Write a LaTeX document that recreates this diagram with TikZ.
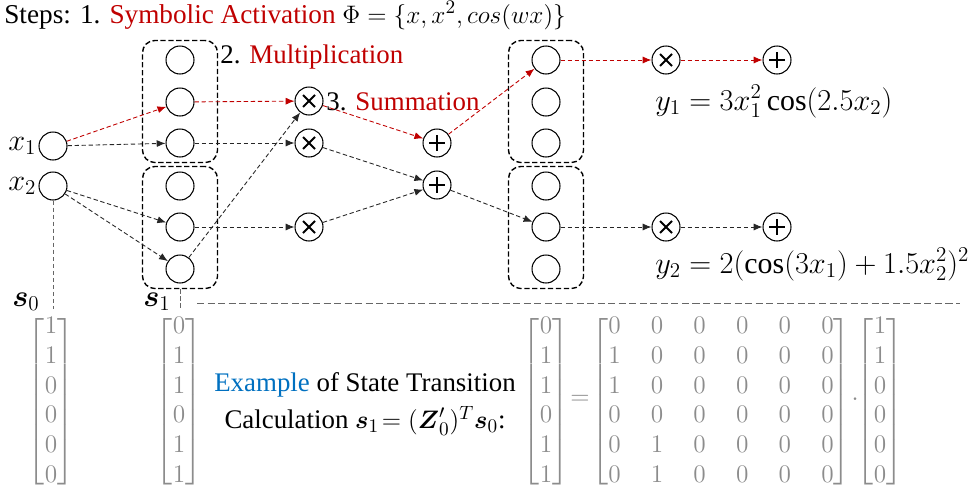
\documentclass[tikz,border=0pt]{standalone}
\usepackage{amsmath}
\usepackage{fontspec}
\setmainfont{Liberation Serif}
\usetikzlibrary{arrows.meta,fit}
\definecolor{stepred}{RGB}{192,0,0}
\definecolor{exblue}{RGB}{0,112,192}
\definecolor{matgray}{RGB}{140,140,140}
\newcommand{\matfont}{\fontsize{14.5}{17}\selectfont\delimiterfactor=900\relax\delimitershortfall=10pt\relax}
\begin{document}
\begin{tikzpicture}[x=0.02cm, y=-0.02cm]
    \tikzset{>={Latex[length=5pt,width=4pt]},
      unit/.style={circle, draw, line width=0.6pt, minimum size=0.56cm, inner sep=0pt},
      mul/.style={unit, path picture={\draw[line width=1.1pt] (path picture bounding box.center) +(-6,-6) -- +(6,6) +(-6,6) -- +(6,-6);}},
      add/.style={unit, path picture={\draw[line width=1.1pt] (path picture bounding box.center) +(-8,0) -- +(8,0) +(0,-8) -- +(0,8);}},
      grp/.style={draw, line width=0.8pt, dash pattern=on 3pt off 1.5pt, rounded corners=7pt, inner xsep=0.46cm, inner ysep=0.1cm},
      link/.style={->, line width=0.5pt, dash pattern=on 2.5pt off 1.5pt, black!85},
      redlink/.style={link, stepred},
      guide/.style={line width=0.5pt, dash pattern=on 2.5pt off 1.5pt, black!60},
      txt/.style={font=\fontsize{15.3}{21}\selectfont},
      big/.style={font=\fontsize{17}{18}\selectfont},
      vec/.style={matgray, inner sep=0pt, font=\matfont}
    }
    \useasboundingbox (0,0) rectangle (969,494);
    \node[anchor=base west, font=\fontsize{15.5}{18}\selectfont, inner sep=0pt] (title) at (4,23)
      {Steps: 1. \textcolor{stepred}{Symbolic Activation} $\Phi=\{x,x^2,cos(wx)\}$};
    \node[unit] (x1) at (53,146) {};
    \node[unit] (x2) at (53,186) {};
    \node[anchor=east, big, inner sep=1pt] (x1lab) at (x1.west) {$x_1$};
    \node[anchor=east, big, inner sep=1pt] (x2lab) at (x2.west) {$x_2$};
    \foreach \i/\y in {1/60,2/102,3/143,4/186,5/227,6/269} {
      \node[unit] (a\i) at (180,\y) {};
      \node[unit] (b\i) at (546,\y) {};
    }
    \node[grp, fit=(a1)(a3)] (g1) {};
    \node[grp, fit=(a4)(a6)] (g2) {};
    \node[grp, fit=(b1)(b3)] (g3) {};
    \node[grp, fit=(b4)(b6)] (g4) {};
    \node[mul] (m1) at (309,101) {};
    \node[mul] (m2) at (309,143) {};
    \node[mul] (m3) at (309,227) {};
    \node[add] (p1) at (437,143) {};
    \node[add] (p2) at (437,185) {};
    \node[mul] (om1) at (666,60) {};
    \node[add] (op1) at (777,60) {};
    \node[mul] (om2) at (666,227) {};
    \node[add] (op2) at (777,227) {};
    \node[anchor=base west, txt, inner sep=0pt] (multlab) at (220,63)
      {2. \textcolor{stepred}{Multiplication}};
    \node[anchor=base west, txt, inner sep=0pt] (sumlab) at (326,110)
      {3. \textcolor{stepred}{Summation}};
    \node[anchor=base west, big, inner sep=0pt] (y1) at (655,110)
      {$y_1=3x_1^2\cos(2.5x_2)$};
    \node[anchor=base west, big, inner sep=0pt] (y2) at (655,273)
      {$y_2=2(\cos(3x_1)+1.5x_2^2)^2$};
    \draw[redlink] (x1) -- (a2);
    \draw[redlink] (a2) -- (m1);
    \draw[redlink] (m1) -- (p1);
    \draw[redlink] (p1) -- (b1);
    \draw[redlink] (b1) -- (om1);
    \draw[redlink] (om1) -- (op1);
    \draw[link] (x1) -- (a3);
    \draw[link] (a3) -- (m2);
    \draw[link] (a6) -- (m1);
    \draw[link] (x2) -- (a5);
    \draw[link] (x2) -- (a6);
    \draw[link] (a5) -- (m3);
    \draw[link] (m2) -- (p2);
    \draw[link] (m3) -- (p2);
    \draw[link] (p2) -- (b5);
    \draw[link] (b5) -- (om2);
    \draw[link] (om2) -- (op2);
    \coordinate (s0top) at (53,309);
    \coordinate (s1top) at (180,309);
    \draw[guide] (x2.south) -- (s0top);
    \draw[guide] (g2.south) -- (s1top);
    \draw[guide, dash pattern=on 4pt off 2pt] (197,303) -- (960,303);
    \node[anchor=base west, big, inner sep=0pt] (s0lab) at (12,306) {$\boldsymbol{s}_0$};
    \node[anchor=base west, big, inner sep=0pt] (s1lab) at (143,306) {$\boldsymbol{s}_1$};
    \node[vec] (s0vec) at (51,402) {$\begin{bmatrix}1\\1\\0\\0\\0\\0\end{bmatrix}$};
    \node[vec] (s1vec) at (179,402) {$\begin{bmatrix}0\\1\\1\\0\\1\\1\end{bmatrix}$};
    \node[align=center, txt] (calc) at (365,404)
      {\textcolor{exblue}{Example} of State Transition\\Calculation $\boldsymbol{s}_1\!=(\boldsymbol{Z}'_0)^T\boldsymbol{s}_0$:};
    \node[vec] (lhs) at (546,402) {$\begin{bmatrix}0\\1\\1\\0\\1\\1\end{bmatrix}$};
    \node[vec] (eq) at (580,400) {$=$};
    \node[vec] (zmat) at (721,402) {\setlength{\arraycolsep}{8.6pt}$\begin{bmatrix}
      0&0&0&0&0&0\\1&0&0&0&0&0\\1&0&0&0&0&0\\0&0&0&0&0&0\\0&1&0&0&0&0\\0&1&0&0&0&0\end{bmatrix}$};
    \node[vec] (dot) at (855,400) {$\cdot$};
    \node[vec] (rhs) at (880,402) {$\begin{bmatrix}1\\1\\0\\0\\0\\0\end{bmatrix}$};
\end{tikzpicture}
\end{document}
